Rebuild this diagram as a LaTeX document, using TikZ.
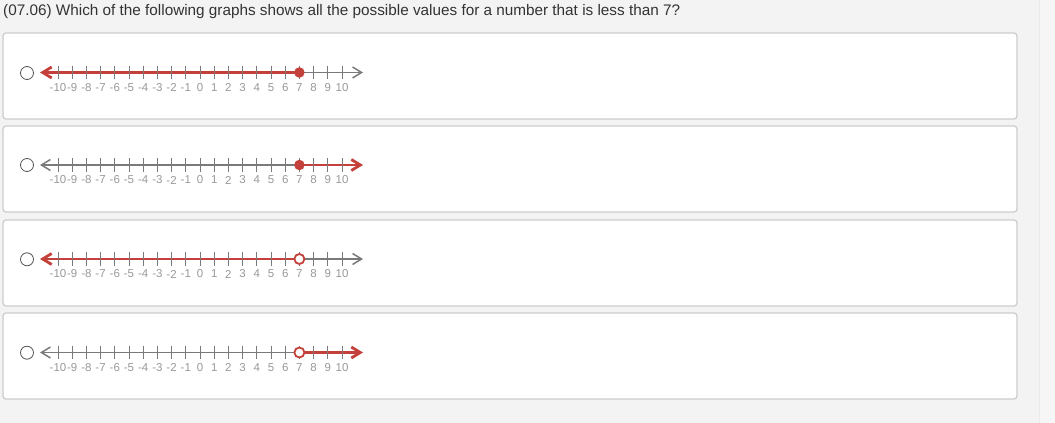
\documentclass[tikz,border=0pt]{standalone}
\usepackage{fontspec}
\setmainfont{Liberation Sans}
\usetikzlibrary{arrows.meta}
\definecolor{bg}{HTML}{F3F3F3}
\definecolor{bgr}{HTML}{F6F6F6}
\definecolor{edge}{HTML}{EAEAEA}
\definecolor{boxc}{HTML}{CDCDCD}
\definecolor{qc}{HTML}{333333}
\definecolor{axc}{HTML}{7A7A7A}
\definecolor{redc}{HTML}{C4403A}
\definecolor{lblc}{HTML}{999999}
\definecolor{radioc}{HTML}{555555}
\tikzset{
  box/.style={draw=boxc, line width=1.3pt, fill=white, rounded corners=3pt, minimum width=1014pt, minimum height=86pt, inner sep=0pt},
  radio/.style={circle, draw=radioc, line width=0.8pt, fill=white, minimum size=13pt, inner sep=0pt},
  gray axis/.style={draw=axc, line width=1.5pt, -{Straight Barb[length=9pt,width=11pt]}},
  red ray/.style={draw=redc, line width=2.8pt, -{Straight Barb[length=9pt,width=11pt]}},
  tk/.style={draw=axc, line width=0.8pt},
  lbl/.style={text=lblc, font=\fontsize{11.5}{11.5}\selectfont, inner sep=0pt},
  cdot/.style={circle, fill=redc, minimum size=10.5pt, inner sep=0pt},
  odot/.style={circle, draw=redc, line width=1.8pt, fill=white, minimum size=10pt, inner sep=0pt}
}
\newcommand\NLine[5]{%
  \coordinate (#1L) at (40,#2);
  \coordinate (#1S) at (299.4,#2);
  \coordinate (#1R) at (363,#2);
  \draw[#3] (#1S) -- (#1L);
  \draw[#4] (#1S) -- (#1R);
  \foreach \v in {-10,...,10} {
    \draw[tk] ({58+14.2*(\v+10)},#2-7) -- ++(0,13.5);
    \node[lbl] at ({58+14.2*(\v+10)},#2+15) {\v};
  }
  \node[#5] (#1dot) at (#1S) {};
}
\begin{document}
\begin{tikzpicture}[x=1pt,y=-1pt]
\useasboundingbox (0,0) rectangle (1055,423);
\fill[bg] (0,0) rectangle (1055,423);
\fill[bgr] (1039,0) rectangle (1055,423);
\draw[edge, line width=0.8pt] (1039,0) -- (1039,423);
\node[anchor=base west, text=qc, font=\fontsize{15.3}{15.3}\selectfont, inner sep=0pt] (q) at (3,15)
  {(07.06) Which of the following graphs shows all the possible values for a number that is less than 7?};
\node[box] (b1) at (510,76) {};
\node[box] (b2) at (510,169) {};
\node[box] (b3) at (510,263) {};
\node[box] (b4) at (510,356) {};
\node[radio] (r1) at (27,73) {};
\node[radio] (r2) at (27,165) {};
\node[radio] (r3) at (27,259.3) {};
\node[radio] (r4) at (27,352.7) {};
\NLine{a}{72.5}{red ray}{gray axis}{cdot}
\NLine{b}{165}{gray axis}{red ray}{cdot}
\NLine{c}{259}{red ray}{gray axis}{odot}
\NLine{d}{352.5}{gray axis}{red ray}{odot}
\end{tikzpicture}
\end{document}
